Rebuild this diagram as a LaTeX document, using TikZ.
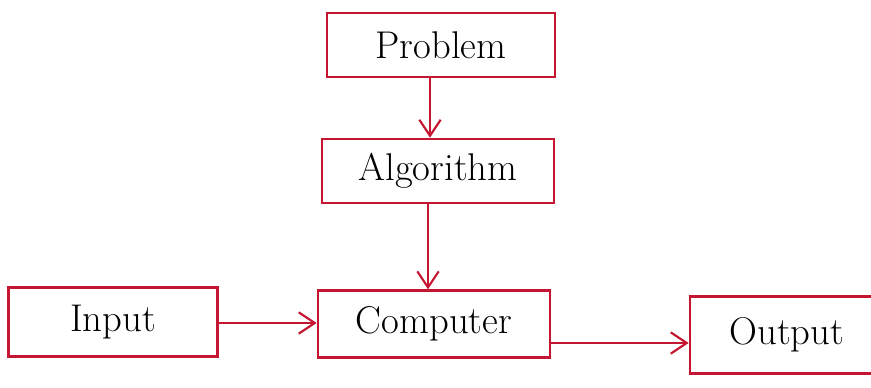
\documentclass[tikz,border=0pt]{standalone}
\usetikzlibrary{arrows.meta}
\definecolor{penred}{RGB}{196,22,48}
\begin{document}
\begin{tikzpicture}[x=0.75pt,y=-0.75pt,
  box/.style={draw=penred,line width=2pt,minimum width=#1*0.75pt,inner sep=0pt,font=\fontsize{29}{32}\selectfont},
  arr/.style={draw=penred,line width=1.6pt,-{Straight Barb[length=12pt,width=16pt,line width=1.6pt]}}]
\useasboundingbox (0,0) rectangle (871,387);
\clip (0,0) rectangle (871,387);
\node[box=228,minimum height=48pt] (prob) at (441,45) {Problem};
\node[box=232,minimum height=48pt] (algo) at (438,171) {Algorithm};
\node[box=209,minimum height=52pt] (inp) at (113,322) {Input};
\node[box=232,minimum height=50pt] (comp) at (434,324) {Computer};
\node[box=220,minimum height=58pt] (outp) at (800,335) {\hspace*{-20pt}Output};
\coordinate (c1) at (430,0);
\coordinate (c2) at (428,0);
\coordinate (c3) at (0,323);
\coordinate (c4) at (0,343);
\draw[arr] (prob.south -| c1) -- (algo.north -| c1);
\draw[arr] (algo.south -| c2) -- (comp.north -| c2);
\draw[arr] (inp.east |- c3) -- (comp.west |- c3);
\draw[arr] (comp.east |- c4) -- (outp.west |- c4);
\end{tikzpicture}
\end{document}
